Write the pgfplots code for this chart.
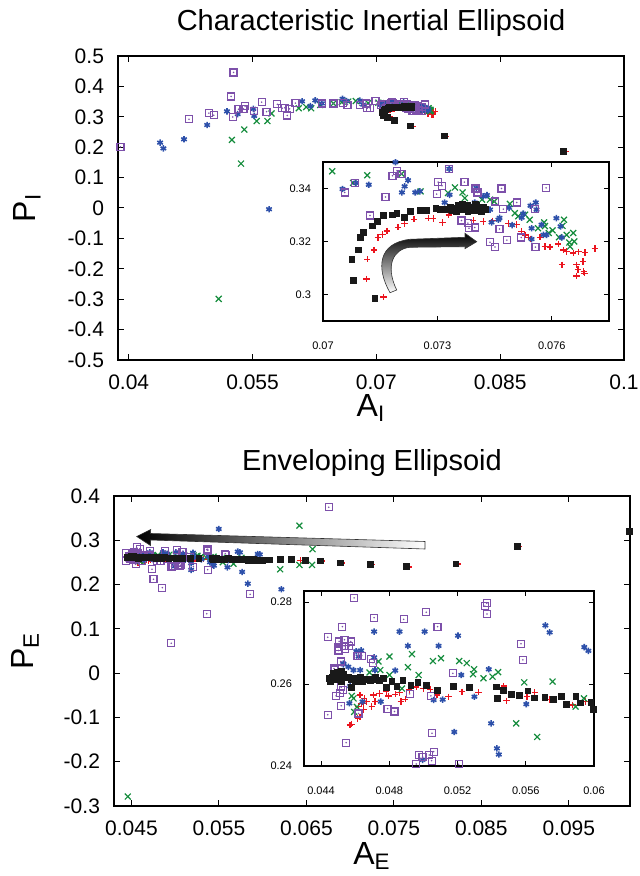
\documentclass[border=0pt]{standalone}
\usepackage{fontspec}
\setmainfont{Liberation Sans}
\usepackage{pgfplots}
\pgfplotsset{compat=1.18}
\usepackage{pgfplotstable}
\definecolor{cred}{RGB}{235,20,30}
\definecolor{cgreen}{RGB}{20,140,60}
\definecolor{cblue}{RGB}{45,80,170}
\definecolor{cpurp}{RGB}{125,80,170}
\definecolor{cblack}{RGB}{25,25,25}

\pgfdeclareplotmark{sqdot}{%
  \pgfpathrectangle{\pgfqpoint{-\pgfplotmarksize}{-\pgfplotmarksize}}{\pgfqpoint{2\pgfplotmarksize}{2\pgfplotmarksize}}%
  \pgfusepathqstroke
  \pgfpathcircle{\pgfpointorigin}{0.25\pgfplotmarksize}%
  \pgfusepathqfill}

% ---------------- TOP (characteristic inertial ellipsoid) ----------------
\pgfplotstableread{
x y
0.07159 0.2990
0.07114 0.3058
0.07116 0.3133
0.07134 0.3168
0.07144 0.3215
0.07156 0.3227
0.07168 0.3239
0.07197 0.3254
0.07214 0.3267
0.07239 0.3284
0.07276 0.3288
0.07289 0.3286
0.07313 0.3272
0.07330 0.3300
0.07394 0.3280
0.07420 0.3276
0.07445 0.3278
0.07486 0.3268
0.07508 0.3264
0.07521 0.3238
0.07530 0.3225
0.07538 0.3216
0.07545 0.3210
0.07569 0.3216
0.07582 0.3181
0.07595 0.3179
0.07617 0.3191
0.07630 0.3168
0.07639 0.3162
0.07656 0.3156
0.07670 0.3161
0.07687 0.3158
0.07713 0.3174
0.07627 0.3112
0.07665 0.3112
0.07669 0.3095
0.07682 0.3124
0.07665 0.3070
0.07684 0.3087
0.07686 0.3080
0.0744 0.269
0.0784 0.236
0.0929 0.186
}\tRedT
\pgfplotstableread{
x y
0.0509 -0.299
0.0536 0.146
0.0525 0.224
0.0540 0.258
0.0555 0.286
0.0568 0.286
0.0573 0.311
0.0606 0.328
0.0615 0.332
0.0621 0.328
0.0632 0.339
0.0648 0.344
0.0658 0.348
0.0666 0.350
0.0675 0.352
0.0690 0.345
0.07024 0.3465
0.07116 0.3450
0.07079 0.3421
0.07206 0.3455
0.07256 0.3389
0.07328 0.3383
0.07346 0.3404
0.07366 0.3385
0.07372 0.3364
0.07417 0.3358
0.07438 0.3358
0.07449 0.3351
0.07490 0.3342
0.07503 0.3307
0.07512 0.3295
0.07530 0.3301
0.07542 0.3282
0.07564 0.3250
0.07580 0.3272
0.07582 0.3258
0.07592 0.3232
0.07602 0.3242
0.07619 0.3216
0.07628 0.3259
0.07632 0.3282
0.07639 0.3225
0.07646 0.3196
0.07656 0.3232
0.07659 0.3200
0.07648 0.3181
}\tGreenT
\pgfplotstableread{
x y
0.0438 0.215
0.0442 0.196
0.0467 0.226
0.0495 0.273
0.0519 0.318
0.0532 0.309
0.0551 0.326
0.0552 0.303
0.0570 -0.004
0.0610 0.351
0.0620 0.335
0.0626 0.354
0.0634 0.344
0.0659 0.359
0.0664 0.352
0.0680 0.353
0.0684 0.340
0.07051 0.3398
0.07086 0.3421
0.07120 0.3414
0.07190 0.3499
0.07223 0.3431
0.07214 0.3408
0.07207 0.3385
0.07242 0.3385
0.07254 0.3389
0.07331 0.3474
0.07319 0.3347
0.07332 0.3376
0.07402 0.3402
0.07398 0.3347
0.07420 0.3370
0.07430 0.3375
0.07438 0.3320
0.07442 0.3272
0.07460 0.3282
0.07463 0.3289
0.07488 0.3327
0.07496 0.3262
0.07525 0.3305
0.07521 0.3290
0.07544 0.3335
0.07558 0.3347
0.07560 0.3320
0.07547 0.3250
0.07547 0.3209
0.07578 0.3225
0.07586 0.3225
0.07612 0.3288
0.07623 0.3257
0.07626 0.3215
0.07573 0.3263
}\tBlueT
\pgfplotstableread{
x y
0.0527 0.446
0.0524 0.367
0.0390 0.201
0.0386 0.039
0.0473 0.292
0.0497 0.312
0.0503 0.305
0.0526 0.299
0.0533 0.325
0.0539 0.326
0.0541 0.335
0.0552 0.318
0.0561 0.348
0.0567 0.317
0.0580 0.341
0.0586 0.328
0.0589 0.330
0.0592 0.304
0.0595 0.326
0.0602 0.345
0.0634 0.344
0.0648 0.344
0.0660 0.345
0.0665 0.340
0.0680 0.338
0.0687 0.344
0.0689 0.328
0.0692 0.330
0.0699 0.352
0.07057 0.3385
0.07083 0.3421
0.07164 0.3368
0.07182 0.3448
0.07194 0.3467
0.07206 0.3455
0.07123 0.3298
0.07298 0.3379
0.07302 0.3424
0.07312 0.3410
0.07331 0.3474
0.07371 0.3424
0.07400 0.3400
0.07405 0.3385
0.07468 0.3400
0.07451 0.3351
0.07473 0.3322
0.07508 0.3347
0.07555 0.3322
0.07585 0.3402
0.07363 0.3279
0.07380 0.3269
0.07383 0.3250
0.07398 0.3253
0.07438 0.3197
0.07451 0.3179
0.07463 0.3247
0.07482 0.3205
0.07520 0.3215
0.07557 0.3179
}\tPurpT
\pgfplotstableread{
x y
0.0927 0.186
0.0782 0.237
0.0741 0.270
0.0722 0.287
0.07136 0.2986
0.07080 0.3053
0.07076 0.3132
0.07092 0.3168
0.07098 0.3216
0.07106 0.3234
0.07130 0.3259
0.07143 0.3276
0.07159 0.3297
0.07182 0.3300
0.07194 0.3305
0.07214 0.3291
0.07229 0.3312
0.07254 0.3316
0.07271 0.3318
0.07296 0.3325
0.07308 0.3322
0.07325 0.3322
0.07335 0.3330
0.07340 0.3318
0.07350 0.3326
0.07355 0.3335
0.07362 0.3320
0.07370 0.3330
0.07378 0.3338
0.07385 0.3322
0.07390 0.3330
0.07398 0.3318
0.07402 0.3335
0.07410 0.3326
0.07415 0.3315
0.07420 0.3330
0.07425 0.3322
0.07380 0.3312
0.07350 0.3312
0.07400 0.3342
0.07365 0.3340
}\tBlackT

% ---------------- BOTTOM (enveloping ellipsoid) ----------------
\pgfplotstableread{
x y
0.0643 0.254
0.0668 0.2533
0.0690 0.2488
0.0725 0.2458
0.0767 0.2398
0.0823 0.2465
0.0893 0.2865
0.04629 0.2573
0.04653 0.2565
0.04639 0.2553
0.04668 0.2557
0.04697 0.2545
0.04649 0.2538
0.04717 0.2557
0.04707 0.2573
0.04742 0.2577
0.04782 0.2581
0.04795 0.2571
0.04835 0.2575
0.04860 0.2579
0.04868 0.2557
0.04893 0.2563
0.04917 0.2587
0.04958 0.2593
0.05001 0.2589
0.05040 0.2587
0.05080 0.2573
0.05148 0.2569
0.05226 0.2581
0.05324 0.2580
0.05471 0.2595
0.05487 0.2559
0.05608 0.2569
0.05653 0.2580
0.05741 0.2562
0.05873 0.2549
0.05951 0.2557
0.04570 0.2500
0.04580 0.2502
0.04615 0.2516
0.04629 0.2520
0.04619 0.2545
0.04649 0.2553
}\tRedB
\pgfplotstableread{
x y
0.04458 -0.2787
0.0642 0.333
0.0657 0.280
0.0620 0.2345
0.0642 0.2443
0.06565 0.2443
0.04801 0.2667
0.04933 0.2673
0.04909 0.2641
0.05056 0.2656
0.05103 0.2663
0.04972 0.2622
0.05210 0.2656
0.05254 0.2651
0.05297 0.2636
0.05291 0.2624
0.05352 0.2614
0.05405 0.2618
0.05438 0.2629
0.05591 0.2604
0.05757 0.2606
0.05544 0.2504
0.05667 0.2471
0.05941 0.2565
0.05892 0.2545
0.04737 0.2655
0.04747 0.2634
0.04801 0.2622
0.04874 0.2589
0.04594 0.2532
0.04590 0.2565
0.04610 0.2544
0.04580 0.2571
0.04684 0.2628
0.04625 0.2612
}\tGreenB
\pgfplotstableread{
x y
0.05498 0.3255
0.05765 0.2285
0.0583 0.202
0.06214 0.1894
0.05597 0.2390
0.05943 0.269
0.05715 0.2743
0.05182 0.233
0.05431 0.2443
0.04711 0.2728
0.04860 0.2728
0.05007 0.2728
0.05203 0.2718
0.05740 0.2726
0.05967 0.2681
0.04909 0.2693
0.05089 0.2693
0.04635 0.2682
0.04606 0.2680
0.04620 0.2667
0.04711 0.2665
0.04835 0.2633
0.05222 0.2622
0.05383 0.2636
0.04531 0.2650
0.04560 0.2642
0.04590 0.2634
0.04629 0.2634
0.04716 0.2634
0.04570 0.2595
0.04566 0.2553
0.04643 0.2557
0.04750 0.2557
0.05060 0.2561
0.05113 0.2562
0.05299 0.2569
0.05603 0.2551
0.05181 0.2483
0.05397 0.2504
0.05442 0.2428
0.04995 0.2415
0.04531 0.2619
0.04531 0.2648
}\tBlueB
\pgfplotstableread{
x y
0.06755 0.3745
0.0536 0.134
0.04954 0.0675
0.04735 0.2345
0.04752 0.212
0.04853 0.193
0.05857 0.178
0.05371 0.2337
0.05371 0.2797
0.0456 0.284
0.04958 0.2405
0.05034 0.2427
0.04974 0.2427
0.0505 0.248
0.0536 0.279
0.05572 0.2698
0.04594 0.2810
0.04439 0.2714
0.04525 0.2740
0.04711 0.2762
0.04884 0.2758
0.05017 0.2775
0.05083 0.2740
0.05373 0.2771
0.05583 0.2659
0.04506 0.2704
0.04537 0.2708
0.04574 0.2704
0.04502 0.2691
0.04535 0.2693
0.04566 0.2693
0.04502 0.2682
0.04541 0.2685
0.04613 0.2669
0.04639 0.2669
0.04516 0.2655
0.04476 0.2638
0.04482 0.2634
0.04694 0.2661
0.04704 0.2652
0.04518 0.2592
0.04528 0.2586
0.04512 0.2578
0.04488 0.2571
0.04518 0.2547
0.04439 0.2525
0.04619 0.2528
0.04790 0.2540
0.04831 0.2533
0.04919 0.2576
0.05044 0.2571
0.05172 0.2626
0.04547 0.2457
0.04995 0.2421
0.05048 0.2413
0.05060 0.2435
0.05207 0.2404
}\tPurpB
\pgfplotstableread{
x y
0.05811 0.257
0.05894 0.257
0.05982 0.2555
0.06077 0.2555
0.06199 0.257
0.06325 0.257
0.06485 0.254
0.06657 0.2533
0.06885 0.2488
0.07228 0.2458
0.0764 0.2405
0.0821 0.2465
0.0891 0.2865
0.1019 0.320
0.04450 0.2614
0.04466 0.2617
0.04481 0.2622
0.04504 0.2626
0.04521 0.2630
0.04541 0.2617
0.04560 0.2616
0.04580 0.2611
0.04600 0.2613
0.04629 0.2616
0.04658 0.2611
0.04688 0.2609
0.04717 0.2616
0.04743 0.2609
0.04766 0.2613
0.04580 0.2591
0.04521 0.2606
0.04782 0.2592
0.04815 0.2606
0.04845 0.2595
0.04880 0.2608
0.04927 0.2597
0.04968 0.2603
0.05017 0.2596
0.05083 0.2585
0.05174 0.2595
0.05271 0.2592
0.05426 0.2593
0.05436 0.2565
0.05471 0.2584
0.05514 0.2575
0.05563 0.2573
0.05612 0.2583
0.05651 0.2566
0.05712 0.2567
0.05761 0.2562
0.05839 0.2551
0.05918 0.2554
0.05996 0.2538
0.04455 0.2605
0.04470 0.2625
0.04490 0.2610
0.04510 0.2618
0.04530 0.2624
0.04495 0.2628
0.04600 0.2605
0.04640 0.2607
0.04700 0.2611
}\tBlackB

\pgfplotsset{
  gpaxis/.style={scale only axis, axis line style={line width=0.6pt},
    every tick/.style={black, line width=0.5pt}, major tick length=3pt,
    tick align=inside, clip=true, enlargelimits=false, scaled ticks=false,
    ticklabel style={font=\fontsize{10.5}{12}\selectfont},
    xticklabel style={yshift=-4pt}, yticklabel style={xshift=-3.5pt},
    label style={font=\fontsize{16}{18}\selectfont},
    title style={font=\fontsize{14.5}{17}\selectfont, yshift=-6pt}},
  gpinset/.style={scale only axis, axis line style={line width=0.6pt},
    every tick/.style={black, line width=0.5pt}, major tick length=2.5pt,
    tick align=inside, clip=true, enlargelimits=false, scaled ticks=false,
    axis background/.style={fill=white},
    ticklabel style={font=\fontsize{5.5}{6.5}\selectfont},
    xticklabel style={yshift=-7pt}, yticklabel style={xshift=-2.5pt}},
  sred/.style={only marks, mark=+, color=cred, mark size=1.6pt, line width=0.65pt},
  sgreen/.style={only marks, mark=x, color=cgreen, mark size=2.1pt, line width=0.6pt},
  sblue/.style={only marks, mark=asterisk, color=cblue, mark size=1.6pt, line width=0.8pt},
  spurp/.style={only marks, mark=sqdot, color=cpurp, mark size=1.75pt, line width=0.6pt},
  sblack/.style={only marks, mark=square*, color=cblack, mark size=1.45pt},
}

\begin{document}
\begin{tikzpicture}
\useasboundingbox (0,0) rectangle (320pt,438pt);

% ===== top main =====
\begin{axis}[gpaxis, at={(59pt,258pt)}, anchor=south west,
  width=253pt, height=152pt,
  xmin=0.0387, xmax=0.1, ymin=-0.5, ymax=0.5,
  xtick={0.04,0.055,0.07,0.085,0.1}, xticklabels={0.04,0.055,0.07,0.085,0.1},
  ytick={-0.5,-0.4,-0.3,-0.2,-0.1,0,0.1,0.2,0.3,0.4,0.5},
  yticklabels={-0.5,-0.4,-0.3,-0.2,-0.1,0,0.1,0.2,0.3,0.4,0.5},
  title={Characteristic Inertial Ellipsoid},
  title style={at={(axis description cs:0.5,1.108)}, anchor=center},
  xlabel={A\textsubscript{I}}, ylabel={P\textsubscript{I}},
  xlabel style={at={(axis description cs:0.5,-0.158)}, anchor=center},
  ylabel style={at={(axis description cs:-0.18,0.5)}, anchor=center},
]
\addplot[sred] table {\tRedT};
\addplot[sgreen] table {\tGreenT};
\addplot[sblue] table {\tBlueT};
\addplot[spurp] table {\tPurpT};
\addplot[sblack] table {\tBlackT};
\end{axis}

% ===== top inset =====
\begin{axis}[gpinset, at={(161.5pt,277.5pt)}, anchor=south west,
  width=143pt, height=79.5pt,
  xmin=0.07, xmax=0.0775, ymin=0.29, ymax=0.35,
  restrict x to domain=0.0699:0.0776, restrict y to domain=0.2895:0.3505,
  xtick={0.07,0.073,0.076}, xticklabels={0.07,0.073,0.076},
  ytick={0.3,0.32,0.34}, yticklabels={0.3,0.32,0.34},
]
\addplot[sred] table {\tRedT};
\addplot[sgreen] table {\tGreenT};
\addplot[sblue] table {\tBlueT};
\addplot[spurp] table {\tPurpT};
\addplot[sblack] table {\tBlackT};
\end{axis}

% ===== bottom main =====
\begin{axis}[gpaxis, at={(57pt,35pt)}, anchor=south west,
  width=258pt, height=155pt,
  xmin=0.043, xmax=0.102, ymin=-0.3, ymax=0.4,
  xtick={0.045,0.055,0.065,0.075,0.085,0.095},
  xticklabels={0.045,0.055,0.065,0.075,0.085,0.095},
  ytick={-0.3,-0.2,-0.1,0,0.1,0.2,0.3,0.4},
  yticklabels={-0.3,-0.2,-0.1,0,0.1,0.2,0.3,0.4},
  title={Enveloping Ellipsoid},
  title style={at={(axis description cs:0.5,1.106)}, anchor=center},
  xlabel={A\textsubscript{E}}, ylabel={P\textsubscript{E}},
  xlabel style={at={(axis description cs:0.5,-0.161)}, anchor=center},
  ylabel style={at={(axis description cs:-0.172,0.5)}, anchor=center},
]
\addplot[sred] table {\tRedB};
\addplot[sgreen] table {\tGreenB};
\addplot[sblue] table {\tBlueB};
\addplot[spurp] table {\tPurpB};
\addplot[sblack] table {\tBlackB};
\end{axis}

% ===== bottom inset =====
\begin{axis}[gpinset, at={(152pt,55pt)}, anchor=south west,
  width=145pt, height=87.5pt,
  xmin=0.043, xmax=0.06, ymin=0.24, ymax=0.2827,
  restrict x to domain=0.0429:0.0601, restrict y to domain=0.2395:0.283,
  xtick={0.044,0.048,0.052,0.056,0.06}, xticklabels={0.044,0.048,0.052,0.056,0.06},
  ytick={0.24,0.26,0.28}, yticklabels={0.24,0.26,0.28},
]
\addplot[sred] table {\tRedB};
\addplot[sgreen] table {\tGreenB};
\addplot[sblue] table {\tBlueB};
\addplot[spurp] table {\tPurpB};
\addplot[sblack] table {\tBlackB};
\end{axis}

% ===== annotation arrows (pixel-based coordinates) =====
\begin{scope}[yshift=438pt, x=0.5pt, y=-0.5pt]
\shade[top color=black, bottom color=white, draw=black!80, line width=0.3pt]
  (390,292.7) .. controls (376,268) and (378,243) .. (410,239.3)
  -- (465,237.3) -- (465,233.3) -- (476.7,241.7) -- (465,248.7) -- (465,246.7)
  -- (410,247.3) .. controls (393,249) and (385,266) .. (396.7,290) -- cycle;
\shade[left color=black, right color=white, draw=black!80, line width=0.3pt]
  (136.7,536.5) -- (150.7,529.5) -- (150.5,533.5) -- (425,541.5) -- (425,549)
  -- (150.5,540) -- (150.5,545.5) -- cycle;
\end{scope}
\end{tikzpicture}
\end{document}
